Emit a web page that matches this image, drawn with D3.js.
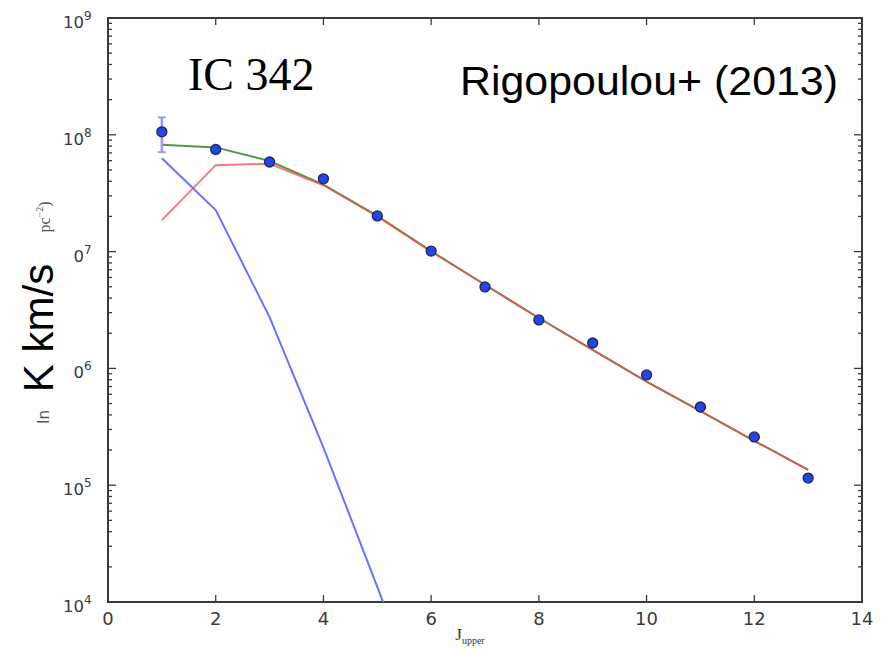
<!DOCTYPE html>
<html><head><meta charset="utf-8">
<script src="https://cdn.jsdelivr.net/npm/d3@7"></script>
<style>body{margin:0;background:#fff}svg{display:block}</style>
</head><body><div id="chart"></div>
<script>
// ---- data ----
const J = [1,2,3,4,5,6,7,8,9,10,11,12,13];
const observed = [1.06e8,7.5e7,5.85e7,4.2e7,2.02e7,1.01e7,4.98e6,2.6e6,1.65e6,8.8e5,4.67e5,2.59e5,1.15e5];
const errLow = [7.1e7];
const errHigh = [1.41e8];
const totalModel = [8.2e7,7.8e7,5.97e7,3.75e7,2.02e7,1.01e7,5.2e6,2.7e6,1.44e6,7.7e5,4.3e5,2.4e5,1.35e5];
const warmModel = [1.86e7,5.5e7,5.65e7,3.7e7,2.0e7,1.0e7,5.2e6,2.7e6,1.44e6,7.7e5,4.3e5,2.4e5,1.35e5];
const J_cold = [1,2,3,4,5,6];
const coldModel = [6.3e7,2.27e7,2.75e6,2.1e5,1.35e4,8e2];
const xTicks = [0,2,4,6,8,10,12,14];
const yDecades = [4,5,6,7,8,9];

const W = 887, H = 655;
const L = 108, R = 862, T = 18, B = 602;
const svg = d3.select("#chart").append("svg").attr("width", W).attr("height", H);
const x = d3.scaleLinear().domain([0,14]).range([L,R]);
const y = d3.scaleLog().domain([1e4,1e9]).range([B,T]);

svg.append("clipPath").attr("id","clip").append("rect")
  .attr("x",L).attr("y",T).attr("width",R-L).attr("height",B-T);

const axisColor = "#3a3a3a";
const gT = svg.append("g").attr("stroke", axisColor).attr("stroke-width",1.3);
yDecades.forEach(d => {
  for (let m = 1; m <= 9; m++) {
    if (d === 9 && m > 1) break;
    const v = m * Math.pow(10,d);
    const yy = y(v);
    const len = m === 1 ? 8 : 4;
    gT.append("line").attr("x1",L).attr("x2",L+len).attr("y1",yy).attr("y2",yy);
    gT.append("line").attr("x1",R).attr("x2",R-len).attr("y1",yy).attr("y2",yy);
  }
});
xTicks.forEach(t => {
  gT.append("line").attr("x1",x(t)).attr("x2",x(t)).attr("y1",B).attr("y2",B-7);
  gT.append("line").attr("x1",x(t)).attr("x2",x(t)).attr("y1",T).attr("y2",T+7);
});
svg.append("rect").attr("x",L).attr("y",T).attr("width",R-L).attr("height",B-T)
  .attr("fill","none").attr("stroke",axisColor).attr("stroke-width",2);

const labColor = "#3a3a3a";
xTicks.forEach(t => {
  svg.append("text").attr("x",x(t)).attr("y",625).attr("text-anchor","middle")
    .attr("font-family","DejaVu Sans, sans-serif").attr("font-size",18).attr("fill",labColor).text(t);
});
yDecades.forEach(d => {
  const t = svg.append("text").attr("x",63).attr("y",y(Math.pow(10,d))+10).attr("text-anchor","start")
    .attr("font-family","DejaVu Sans, sans-serif").attr("font-size",16.5).attr("fill",labColor);
  t.append("tspan").text("10");
  t.append("tspan").attr("dy",-8).attr("font-size",12).text(d);
});

// y axis label (white box hides part of tick labels as in reference)
svg.append("rect").attr("x",10).attr("y",196).attr("width",63).attr("height",200).attr("fill","#fff");
svg.append("g").attr("transform","translate(53,328) rotate(-90)").append("text")
  .attr("text-anchor","middle").attr("font-family","Liberation Sans, Arial, sans-serif")
  .attr("font-size",42).attr("fill","#000").text("K km/s");
svg.append("g").attr("transform","translate(49,417) rotate(-90)").append("text")
  .attr("text-anchor","middle").attr("font-family","DejaVu Sans, sans-serif").attr("font-size",15).attr("fill","#555").text("In");
const pc = svg.append("g").attr("transform","translate(50,217) rotate(-90)").append("text")
  .attr("text-anchor","middle").attr("font-family","Liberation Serif, serif").attr("font-size",16).attr("fill","#555");
pc.append("tspan").text("pc");
pc.append("tspan").attr("dy",-7).attr("font-size",10).text("−2");
pc.append("tspan").attr("dy",7).text(")");

// x label
const xl = svg.append("text").attr("x",470).attr("y",640).attr("text-anchor","middle")
  .attr("font-family","Liberation Serif, serif").attr("fill","#333").attr("font-size",17);
xl.append("tspan").text("J");
xl.append("tspan").attr("dy",4).attr("font-size",10).text("upper");

// lines
const line = (xs) => d3.line().x((d,i)=>x(xs[i])).y(d=>y(d));
const plot = svg.append("g").attr("clip-path","url(#clip)");
plot.append("path").datum(coldModel).attr("d", line(J_cold))
  .attr("fill","none").attr("stroke","#7070ff").attr("stroke-width",2);
plot.append("path").datum(totalModel).attr("d", line(J))
  .attr("fill","none").attr("stroke","#4a9a4a").attr("stroke-width",2);
plot.append("path").datum(warmModel).attr("d", line(J))
  .attr("fill","none").attr("stroke","#f05050").attr("stroke-width",2).attr("stroke-opacity",0.75);

errLow.forEach((lo,i) => {
  const hi = errHigh[i], xx = x(J[i]);
  plot.append("line").attr("x1",xx).attr("x2",xx).attr("y1",y(lo)).attr("y2",y(hi))
    .attr("stroke","#9a9af0").attr("stroke-width",2.5);
  [lo,hi].forEach(v => plot.append("line").attr("x1",xx-4).attr("x2",xx+4).attr("y1",y(v)).attr("y2",y(v))
    .attr("stroke","#9a9af0").attr("stroke-width",2));
});

plot.selectAll("circle.pt").data(observed).enter().append("circle")
  .attr("cx",(d,i)=>x(J[i])).attr("cy",d=>y(d)).attr("r",5)
  .attr("fill","#2445e0").attr("stroke","#1a2466").attr("stroke-width",1.3);

svg.append("text").attr("x",188).attr("y",90).attr("font-family","Liberation Serif, Times New Roman, serif")
  .attr("font-size",46).attr("fill","#000").text("IC 342");
svg.append("text").attr("x",460).attr("y",95).attr("font-family","Liberation Sans, Arial, sans-serif")
  .attr("font-size",40).attr("fill","#000").attr("textLength",378).attr("lengthAdjust","spacingAndGlyphs")
  .text("Rigopoulou+ (2013)");
</script></body></html>
